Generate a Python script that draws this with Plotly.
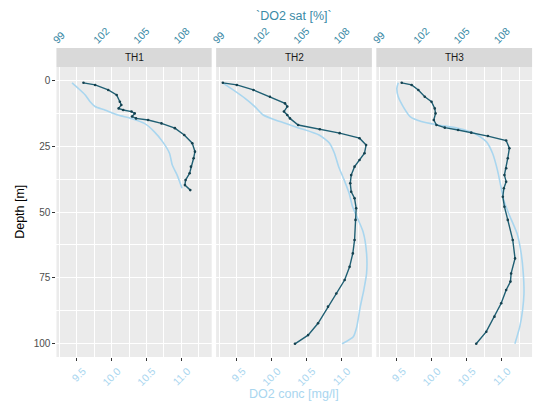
import plotly.graph_objects as go

# ---------------- data ----------------
stations = ["TH1", "TH2", "TH3"]

th1_conc_depth = [1, 3.1, 5.6, 8.2, 10, 11.3, 13.2, 14.5, 16.4, 19.5, 23.3, 27.7, 32.2, 36, 41]
th1_conc = [9.43, 9.52, 9.62, 9.69, 9.76, 9.9, 10.09, 10.28, 10.47, 10.61, 10.73, 10.83, 10.87, 10.94, 11.01]
th1_sat_depth = [1, 1.8, 3.7, 5.6, 8.2, 9.4, 10.7, 11.3, 11.9, 12.6, 13.8, 14.5, 15.1, 16.4, 18.2,
                 20.8, 23.9, 27.1, 29.6, 32.8, 35.3, 37.9, 39.8, 41.7]
th1_sat = [100.77, 101.64, 102.62, 103.25, 103.49, 103.6, 103.4, 103.74, 104.36, 104.6, 104.4, 104.7,
           105.6, 106.6, 107.6, 108.3, 108.9, 109.1, 109.0, 108.8, 108.7, 108.4, 108.35, 108.75]

th2_conc_depth = [1, 3.7, 6.9, 10, 13.2, 15.7, 18.2, 20.8, 23.9, 27.7, 32.8, 37.9, 42.9, 48, 57.5,
                  65.7, 73.3, 79.6, 85.9, 93.5, 97.3, 100]
th2_conc = [9.30, 9.45, 9.62, 9.76, 9.88, 10.12, 10.40, 10.68, 10.83, 10.90, 10.96, 11.04, 11.11,
            11.16, 11.31, 11.36, 11.36, 11.32, 11.27, 11.22, 11.17, 11.01]
th2_sat_depth = [1, 1.8, 3.7, 6.3, 8.8, 10, 11.9, 13.2, 14.5, 17, 18.6, 20.1, 22, 24.6, 27.7, 30.3,
                 32.8, 36, 39.1, 42.3, 44.8, 48.6, 53, 60.6, 65.7, 70.8, 75.8, 80.9, 85.9, 92.2, 96.7, 100]
th2_sat = [99.25, 100.29, 101.53, 102.76, 103.88, 104.05, 103.8, 104.05, 104.25, 104.86, 106.47,
           107.95, 109.43, 109.92, 109.8, 109.43, 109.06, 108.81, 108.74, 108.81, 109.06, 109.18,
           109.13, 109.06, 108.93, 108.69, 108.32, 107.7, 107.08, 106.34, 105.6, 104.62]

th3_conc_depth = [1, 3.1, 6.3, 10, 13.8, 15.7, 17, 18.2, 20.1, 23.3, 27.7, 34.1, 40.4, 45.4, 50.5,
                  58.1, 65.7, 73.3, 80.9, 87.2, 93.5, 100]
th3_conc = [9.52, 9.50, 9.52, 9.59, 9.69, 9.85, 10.09, 10.37, 10.61, 10.78, 10.87, 10.94, 10.99,
            11.03, 11.10, 11.22, 11.28, 11.31, 11.32, 11.30, 11.26, 11.19]
th3_sat_depth = [1, 1.8, 3.7, 6.3, 8.2, 10.7, 12.6, 15.1, 17, 18, 18.9, 19.9, 21.2, 22.9, 25.8, 29.6,
                 33.4, 36, 38.5, 41, 44.2, 48, 53, 60.6, 67.6, 73.3, 76.4, 79.6, 84.6, 89.7, 95.4, 100]
th3_sat = [100.64, 101.38, 101.88, 102.36, 102.86, 103.1, 103.16, 103.03, 103.23, 103.85, 104.84,
           105.82, 107.06, 108.42, 108.66, 108.54, 108.42, 108.29, 108.42, 108.25, 108.17, 108.29,
           108.54, 108.91, 109.08, 108.79, 108.74, 108.42, 108.05, 107.55, 106.94, 106.19]

conc_ticks = [9.5, 10.0, 10.5, 11.0]
sat_ticks = [99, 102, 105, 108]
depth_ticks = [0, 25, 50, 75, 100]

# ---------------- styling ----------------
W, H = 539, 411
FONT = "Liberation Sans, Arial, sans-serif"
LIGHT = "#a9d6ef"
DARK = "#1f5f73"
DARK_PT = "#15414f"
TEAL_TXT = "#3a8aa6"
PANEL_BG = "#EBEBEB"
STRIP_BG = "#D9D9D9"

panels_px = [(51, 208), (212.5, 370), (374.5, 532)]
y_bot_px, y_top_px = 357, 67
strip_top_px = 48

def px_x(p):
    return p / W

def px_y(p):
    return 1 - p / H

conc_range = [9.206, 11.436]
sat_range = [98.75, 110.35]
depth_range = [105, -5]

series = [
    (th1_conc_depth, th1_conc, th1_sat_depth, th1_sat),
    (th2_conc_depth, th2_conc, th2_sat_depth, th2_sat),
    (th3_conc_depth, th3_conc, th3_sat_depth, th3_sat),
]

fig = go.Figure()
layout = dict(
    width=W, height=H,
    margin=dict(l=0, r=0, t=0, b=0),
    paper_bgcolor="white",
    plot_bgcolor=PANEL_BG,
    showlegend=False,
    font=dict(family=FONT, size=10, color="#4D4D4D"),
)

ydom = [px_y(y_bot_px), px_y(y_top_px)]
for i, (cd, cv, sd, sv) in enumerate(series):
    k = i + 1
    xb = "x" if k == 1 else f"x{k}"
    xt = f"x{k + 3}"
    yname = "y" if k == 1 else f"y{k}"

    fig.add_trace(go.Scatter(
        x=cv, y=cd, xaxis=xb, yaxis=yname, mode="lines",
        line=dict(color=LIGHT, width=1.6, shape="spline", smoothing=0.6),
        hoverinfo="skip"))
    fig.add_trace(go.Scatter(
        x=sv, y=sd, xaxis=xt, yaxis=yname, mode="lines+markers",
        line=dict(color=DARK, width=1.4),
        marker=dict(color=DARK_PT, size=2.6),
        hoverinfo="skip"))

    x0, x1 = panels_px[i]
    dom = [px_x(x0), px_x(x1)]
    layout["xaxis" if k == 1 else f"xaxis{k}"] = dict(
        domain=dom, anchor=yname, range=conc_range,
        tickvals=conc_ticks, ticktext=[f"{v:.1f}" for v in conc_ticks],
        tickangle=-45, tickfont=dict(color=LIGHT, size=10.5, family=FONT),
        ticks="outside", ticklen=3, tickcolor="#333333", tickwidth=1,
        ticklabelshift=6, ticklabelstandoff=0,
        showgrid=True, gridcolor="white", gridwidth=1.1,
        minor=dict(dtick=0.25, tick0=9.25, showgrid=True, gridcolor="white", gridwidth=0.5),
        zeroline=False, showline=False, fixedrange=True)
    layout[f"xaxis{k + 3}"] = dict(
        overlaying=xb, anchor="free", position=px_y(strip_top_px), side="top",
        range=sat_range, tickvals=sat_ticks, ticktext=[str(v) for v in sat_ticks],
        tickangle=-45, tickfont=dict(color=TEAL_TXT, size=10.5, family=FONT),
        ticks="", ticklabelshift=-6, ticklabelstandoff=0,
        showgrid=False, zeroline=False, showline=False, fixedrange=True)
    ycfg = dict(
        domain=ydom, anchor=xb, range=depth_range,
        tickvals=depth_ticks, ticks="outside" if k == 1 else "", ticklen=3,
        tickcolor="#333333", showticklabels=(k == 1),
        tickfont=dict(color="#4D4D4D", size=10, family=FONT),
        showgrid=True, gridcolor="white", gridwidth=1.1,
        minor=dict(dtick=12.5, tick0=-12.5, showgrid=True, gridcolor="white", gridwidth=0.5),
        zeroline=False, showline=False, fixedrange=True)
    if k > 1:
        ycfg["matches"] = "y"
    layout["yaxis" if k == 1 else f"yaxis{k}"] = ycfg

shapes = []
annotations = []
for i, name in enumerate(stations):
    x0, x1 = panels_px[i]
    shapes.append(dict(type="rect", xref="paper", yref="paper",
                       x0=px_x(x0), x1=px_x(x1), y0=px_y(y_top_px), y1=px_y(strip_top_px),
                       fillcolor=STRIP_BG, line=dict(width=0), layer="below"))
    annotations.append(dict(text=name, xref="paper", yref="paper",
                            x=px_x((x0 + x1) / 2), y=px_y((y_top_px + strip_top_px) / 2),
                            showarrow=False, xanchor="center", yanchor="middle",
                            font=dict(size=10, color="#1A1A1A", family=FONT)))

annotations.append(dict(text="`DO2 sat [%]`", xref="paper", yref="paper",
                        x=px_x(291), y=px_y(16), showarrow=False,
                        xanchor="center", yanchor="middle",
                        font=dict(size=12.5, color=TEAL_TXT, family=FONT)))
annotations.append(dict(text="DO2 conc [mg/l]", xref="paper", yref="paper",
                        x=px_x(291), y=px_y(394), showarrow=False,
                        xanchor="center", yanchor="middle",
                        font=dict(size=12.5, color=LIGHT, family=FONT)))
annotations.append(dict(text="Depth [m]", xref="paper", yref="paper",
                        x=px_x(14), y=px_y(212), showarrow=False, textangle=-90,
                        xanchor="center", yanchor="middle",
                        font=dict(size=12.5, color="black", family=FONT)))

layout["shapes"] = shapes
layout["annotations"] = annotations
fig.update_layout(**layout)
fig.write_html(
    "out.html",
    config={"displayModeBar": False},
    post_script="document.body.style.margin='0';document.body.style.padding='0';",
)
